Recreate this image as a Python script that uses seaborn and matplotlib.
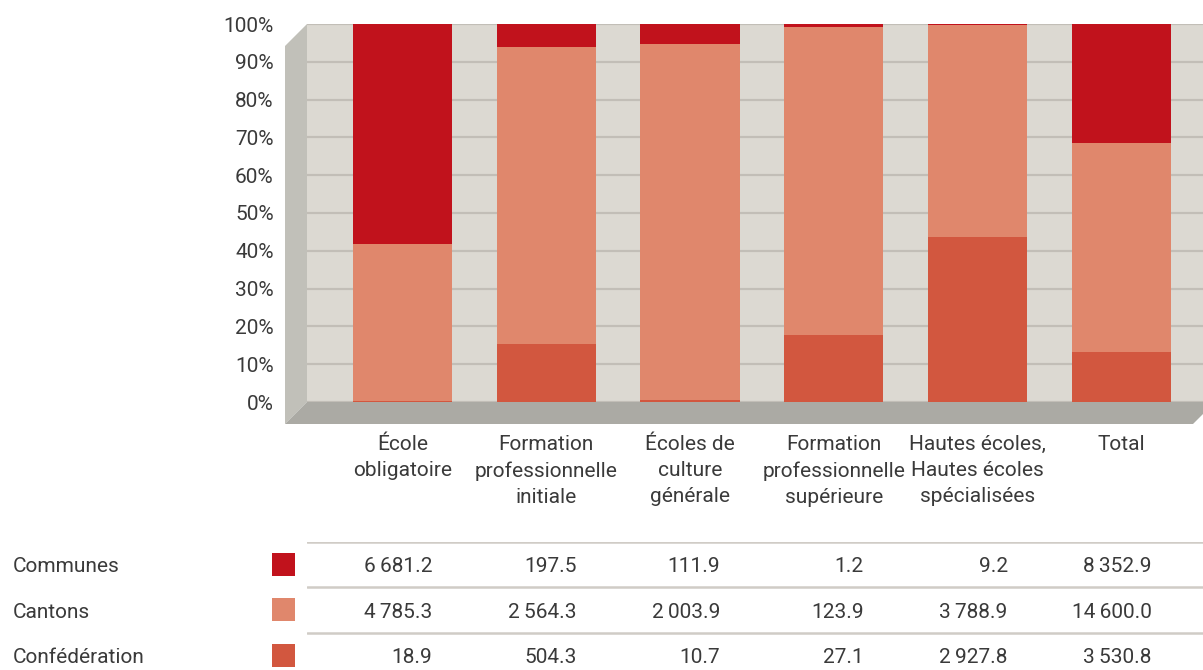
import numpy as np
import pandas as pd
import matplotlib.pyplot as plt
import seaborn as sns
from matplotlib.patches import Polygon, Rectangle
from matplotlib.transforms import blended_transform_factory

# values (millions CHF)
categories = ["École\nobligatoire", "Formation\nprofessionnelle\ninitiale",
              "Écoles de\nculture\ngénérale", "Formation\nprofessionnelle\nsupérieure",
              "Hautes écoles,\nHautes écoles\nspécialisées", "Total"]
series_names = ["Communes", "Cantons", "Confédération"]
communes = [6681.2, 197.5, 111.9, 1.2, 9.2, 8352.9]
cantons = [4785.3, 2564.3, 2003.9, 123.9, 3788.9, 14600.0]
confederation = [18.9, 504.3, 10.7, 27.1, 2927.8, 3530.8]
ytick_values = [0, 0.1, 0.2, 0.3, 0.4, 0.5, 0.6, 0.7, 0.8, 0.9, 1.0]

colors = {"Communes": "#C1121C", "Cantons": "#E0876C", "Confédération": "#D2573F"}
text_col = "#3A3A3A"

sns.set_theme(style="white")
plt.rcParams["font.family"] = ["Roboto", "DejaVu Sans"]
plt.rcParams["font.size"] = 15

W, H = 1203, 670
fig = plt.figure(figsize=(W / 100, H / 100), dpi=100)

# chart area in pixels (back wall)
left_px, right_px, top_px, bottom_px, depth = 307, 1203, 24, 402, 22
ax = fig.add_axes([left_px / W, 1 - bottom_px / H,
                   (right_px - left_px) / W, (bottom_px - top_px) / H])

df = pd.DataFrame({"cat": categories, "comm": communes,
                   "cant": cantons, "conf": confederation})
tot = df["comm"] + df["cant"] + df["conf"]
df["s_conf"] = df["conf"] / tot
df["s_cant"] = df["s_conf"] + df["cant"] / tot
df["s_comm"] = df["s_cant"] + df["comm"] / tot

ax.set_facecolor("#DCD9D2")
for col, name in [("s_comm", "Communes"), ("s_cant", "Cantons"), ("s_conf", "Confédération")]:
    sns.barplot(data=df, x="cat", y=col, color=colors[name], width=0.69,
                saturation=1, linewidth=0, errorbar=None, ax=ax, zorder=3)

ax.set_xlim(-0.664, 5.567)
ax.set_ylim(0, 1)
ax.set_yticks(ytick_values)
ax.set_yticklabels([f"{int(round(v * 100))}%" for v in ytick_values], color=text_col)
ax.yaxis.grid(True, color="#C2BEB7", lw=1.6, zorder=1)
ax.set_axisbelow(True)
ax.tick_params(axis="y", length=0, pad=24, labelsize=15)
ax.tick_params(axis="x", length=0, pad=24, labelsize=15)
ax.set_xticks(range(len(categories)))
ax.set_xticklabels(categories, color=text_col, linespacing=1.46)
ax.set_xlabel("")
ax.set_ylabel("")
for s in ax.spines.values():
    s.set_visible(False)


def px(points):
    return [(x / W, 1 - y / H) for x, y in points]


# 3D-looking side wall and floor
fig.add_artist(Polygon(px([(left_px - depth, top_px + depth), (left_px, top_px),
                           (left_px, bottom_px), (left_px - depth, bottom_px + depth)]),
                       closed=True, facecolor="#C1C0B9", edgecolor="none",
                       transform=fig.transFigure))
fig.add_artist(Polygon(px([(left_px - depth, bottom_px + depth), (left_px, bottom_px),
                           (right_px + 12, bottom_px), (right_px - 10, bottom_px + depth)]),
                       closed=True, facecolor="#ABAAA4", edgecolor="none",
                       transform=fig.transFigure))

# data table below
row_h = 45.3
tab_top = 542
ax_tab = fig.add_axes([left_px / W, 0, (right_px - left_px) / W, (H - tab_top) / H])
ax_tab.set_xlim(ax.get_xlim())
ax_tab.set_ylim((H - tab_top) / row_h, 0)
ax_tab.axis("off")

trans = blended_transform_factory(fig.transFigure, ax_tab.transData)
table_rows = [communes, cantons, confederation]
for r, (name, vals) in enumerate(zip(series_names, table_rows)):
    ax_tab.axhline(r, color="#D0CCC6", lw=1.8)
    fig.text(13 / W, r + 0.55, name, transform=trans, va="center", ha="left",
             color=text_col)
    fig.add_artist(Rectangle((272 / W, r + 0.5 - 11.5 / row_h), 23 / W, 23 / row_h,
                             transform=trans, facecolor=colors[name], edgecolor="none"))
    for i, v in enumerate(vals):
        label = f"{v:,.1f}".replace(",", "\u2009")
        ax_tab.text(i + 0.209, r + 0.55, label, ha="right", va="center", color=text_col)

fig.savefig("out.png", dpi=100)
